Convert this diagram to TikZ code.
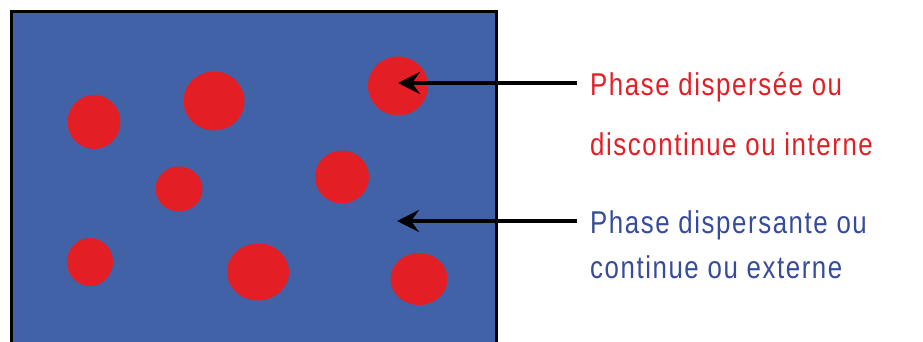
\documentclass[tikz,border=0pt]{standalone}
\usepackage{fontspec}
\setmainfont{Liberation Sans}[FakeStretch=0.82,LetterSpace=5]
\usetikzlibrary{arrows.meta,shapes.geometric}
\definecolor{phaseblue}{RGB}{66,98,168}
\definecolor{dropred}{RGB}{227,30,36}
\definecolor{txtblue}{RGB}{55,75,155}
\begin{document}
\begin{tikzpicture}[x=1pt,y=-1pt,
    drop/.style={ellipse, fill=dropred, inner sep=0pt},
    arr/.style={line width=3.5pt, -{Stealth[length=22pt,width=22pt,inset=8pt]}},
    lbl/.style={anchor=base west, inner sep=0pt, font=\fontsize{31.5}{38}\selectfont}]
    \useasboundingbox (0,0) rectangle (923,342);
    \fill[phaseblue] (11,12) rectangle (496,343);
    \draw[line width=3pt] (11,343) -- (11,12) -- (496,12) -- (496,343);
    \node[drop, minimum width=53pt, minimum height=54pt] (d1) at (94,122) {};
    \node[drop, minimum width=61pt, minimum height=59pt] (d2) at (214,101) {};
    \node[drop, minimum width=60pt, minimum height=59pt] (d3) at (398,86) {};
    \node[drop, minimum width=47pt, minimum height=45pt] (d4) at (179,189) {};
    \node[drop, minimum width=54pt, minimum height=53pt] (d5) at (342,177) {};
    \node[drop, minimum width=46pt, minimum height=48pt] (d6) at (90,262) {};
    \node[drop, minimum width=62pt, minimum height=57pt] (d7) at (258,272) {};
    \node[drop, minimum width=57pt, minimum height=52pt] (d8) at (419,279) {};
    \node[lbl, text=dropred] (int1) at (590,96) {Phase dispersée ou};
    \node[lbl, text=dropred] (int2) at (590,155) {discontinue ou interne};
    \node[lbl, text=txtblue] (ext1) at (590,233) {Phase dispersante ou};
    \node[lbl, text=txtblue] (ext2) at (590,278) {continue ou externe};
    \coordinate (a1) at (577,83);
    \coordinate (a2) at (577,221);
    \coordinate (cont) at (397,221);
    \draw[arr] (a1) -- (a1 -| d3);
    \draw[arr] (a2) -- (cont);
\end{tikzpicture}
\end{document}
